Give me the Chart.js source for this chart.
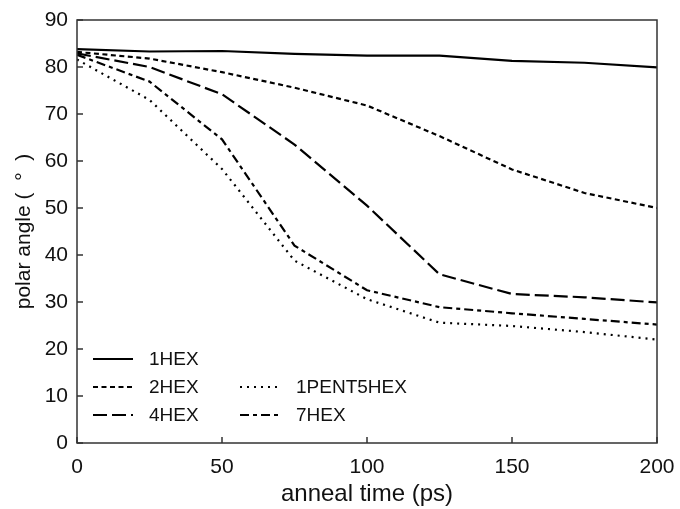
<!DOCTYPE html>
<html>
<head>
<meta charset="utf-8">
<script src="https://cdn.jsdelivr.net/npm/chart.js@4/dist/chart.umd.min.js"></script>
<style>
  body { margin: 0; background: #fff; }
  #wrap { width: 680px; height: 509px; }
</style>
</head>
<body>
<div id="wrap"><canvas id="angleChart" width="680" height="509"></canvas></div>
<script>
// anneal time (ps)
var times = [0, 25, 50, 75, 100, 125, 150, 175, 200];

// polar angle (deg) per structure
var hex1 = [83.8, 83.3, 83.4, 82.8, 82.4, 82.4, 81.3, 80.9, 79.9];
var hex2 = [83.2, 81.8, 78.9, 75.6, 71.8, 65.3, 58.2, 53.2, 50.0];
var hex4 = [82.9, 80.0, 74.2, 63.5, 50.5, 35.9, 31.7, 31.0, 29.9];
var pent1hex5 = [81.6, 73.0, 58.3, 38.8, 30.6, 25.6, 24.9, 23.6, 22.0];
var hex7 = [82.6, 76.9, 64.6, 42.0, 32.5, 28.9, 27.6, 26.4, 25.2];

var seriesNames = ["1HEX", "2HEX", "4HEX", "1PENT5HEX", "7HEX"];
var xTicks = [0, 50, 100, 150, 200];
var yTicks = [0, 10, 20, 30, 40, 50, 60, 70, 80, 90];

var FONT = "'Liberation Sans', Arial, sans-serif";

function pts(vals) {
    return times.map(function (t, i) { return { x: t, y: vals[i] }; });
}

function line(name, vals, dash) {
    return {
        label: name,
        data: pts(vals),
        borderColor: "#000",
        borderWidth: 2.2,
        borderDash: dash,
        pointRadius: 0,
        tension: 0,
        fill: false
    };
}

// box, inward ticks and the two-column legend
var framePlugin = {
    id: "frame",
    afterDraw: function (chart) {
        var ctx = chart.ctx, a = chart.chartArea;
        var xs = chart.scales.x, ys = chart.scales.y;
        ctx.save();
        ctx.strokeStyle = "#333";
        ctx.lineWidth = 1.5;
        ctx.setLineDash([]);
        ctx.strokeRect(a.left, a.top, a.right - a.left, a.bottom - a.top);
        ctx.beginPath();
        xs.ticks.forEach(function (t) {
            var px = xs.getPixelForValue(t.value);
            ctx.moveTo(px, a.bottom);
            ctx.lineTo(px, a.bottom - 6);
        });
        ys.ticks.forEach(function (t) {
            var py = ys.getPixelForValue(t.value);
            ctx.moveTo(a.left, py);
            ctx.lineTo(a.left + 6, py);
        });
        ctx.stroke();

        // legend: column 1 = 1HEX, 2HEX, 4HEX ; column 2 = -, 1PENT5HEX, 7HEX
        var cols = [[0, 1, 2], [null, 3, 4]];
        var colX = [a.left + 16, a.left + 163];
        var rowY = [a.bottom - 84, a.bottom - 56, a.bottom - 28];
        ctx.font = "19px " + FONT;
        ctx.fillStyle = "#111";
        ctx.textBaseline = "middle";
        cols.forEach(function (col, c) {
            col.forEach(function (idx, r) {
                if (idx === null) return;
                var ds = chart.data.datasets[idx];
                var x0 = colX[c], y0 = rowY[r];
                ctx.beginPath();
                ctx.strokeStyle = "#000";
                ctx.lineWidth = 2.2;
                ctx.setLineDash(ds.borderDash || []);
                ctx.moveTo(x0, y0);
                ctx.lineTo(x0 + 40, y0);
                ctx.stroke();
                ctx.setLineDash([]);
                ctx.fillText(ds.label, x0 + 56, y0 + 1);
            });
        });
        ctx.restore();
    }
};

document.addEventListener('DOMContentLoaded', function () {
    var ctx = document.getElementById("angleChart").getContext('2d');

    var angleChart = new Chart(ctx, {
        type: 'line',
        data: {
            datasets: [
                line(seriesNames[0], hex1, []),
                line(seriesNames[1], hex2, [5, 3.5]),
                line(seriesNames[2], hex4, [14, 5]),
                line(seriesNames[3], pent1hex5, [2, 5]),
                line(seriesNames[4], hex7, [9, 4, 4, 4])
            ]
        },
        options: {
            responsive: false,
            animation: false,
            layout: { padding: { left: 0, right: 23, top: 20, bottom: 0 } },
            plugins: {
                legend: { display: false },
                tooltip: { enabled: false }
            },
            scales: {
                x: {
                    type: 'linear',
                    min: 0,
                    max: 200,
                    afterBuildTicks: function (s) { s.ticks = xTicks.map(function (v) { return { value: v }; }); },
                    afterFit: function (s) { s.height = 66; s.paddingRight = 0; s.paddingLeft = 0; },
                    grid: { display: false, drawTicks: false },
                    border: { display: false },
                    ticks: { font: { family: FONT, size: 21 }, color: "#111", padding: 12, maxRotation: 0 },
                    title: {
                        display: true,
                        text: "anneal time (ps)",
                        font: { family: FONT, size: 24 },
                        color: "#111",
                        padding: { top: 0, bottom: 0 }
                    }
                },
                y: {
                    min: 0,
                    max: 90,
                    afterBuildTicks: function (s) { s.ticks = yTicks.map(function (v) { return { value: v }; }); },
                    afterFit: function (s) { s.width = 77; s.paddingTop = 0; s.paddingBottom = 0; },
                    grid: { display: false, drawTicks: false },
                    border: { display: false },
                    ticks: { font: { family: FONT, size: 21 }, color: "#111", padding: 9 },
                    title: {
                        display: true,
                        text: "polar angle (  °  )",
                        font: { family: FONT, size: 21 },
                        color: "#111",
                        padding: { top: 12, bottom: 0 }
                    }
                }
            }
        },
        plugins: [framePlugin]
    });
});
</script>
</body>
</html>
